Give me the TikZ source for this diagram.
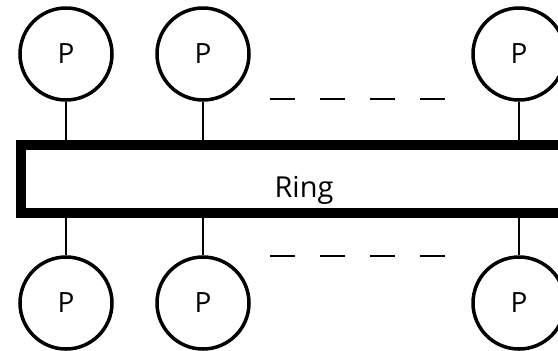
\documentclass[tikz,border=0pt]{standalone}
\usepackage{fontspec}
\setmainfont{Open Sans}
\usetikzlibrary{positioning}

\tikzset{
  proc/.style={circle,draw,line width=3.5bp,minimum size=92bp,inner sep=0pt,font=\fontsize{28}{30}\selectfont},
  ringbox/.style={rectangle,draw,line width=10bp,minimum width=549bp,minimum height=68bp,inner sep=0pt},
  link/.style={line width=1.5bp},
  gap/.style={line width=2bp,dash pattern=on 25bp off 25bp}
}

\begin{document}
\begin{tikzpicture}[x=1bp,y=-1bp]
\useasboundingbox (0,0) rectangle (558,350);

% the ring
\node[ringbox] (ring) at (295.5,179) {};
\node[font=\fontsize{29}{31}\selectfont] (ringlbl) at (304,190) {Ring};

% processors above and below
\node[proc] (pt1) at (66,54) {P};
\node[proc] (pt2) at (203,54) {P};
\node[proc] (pt3) at (519,54) {P};
\node[proc] (pb1) at (66,303) {P};
\node[proc] (pb2) at (203,303) {P};
\node[proc] (pb3) at (519,303) {P};

\foreach \p in {1,2,3} {
  \draw[link] (pt\p.south) -- (pt\p.south |- ring.north);
  \draw[link] (pb\p.north) -- (pb\p.north |- ring.south);
}

% more processors in between
\coordinate (dt1) at (270,99);
\coordinate (dt2) at (446,99);
\coordinate (db1) at (270,256);
\coordinate (db2) at (446,256);
\draw[gap] (dt1) -- (dt2);
\draw[gap] (db1) -- (db2);
\end{tikzpicture}
\end{document}
